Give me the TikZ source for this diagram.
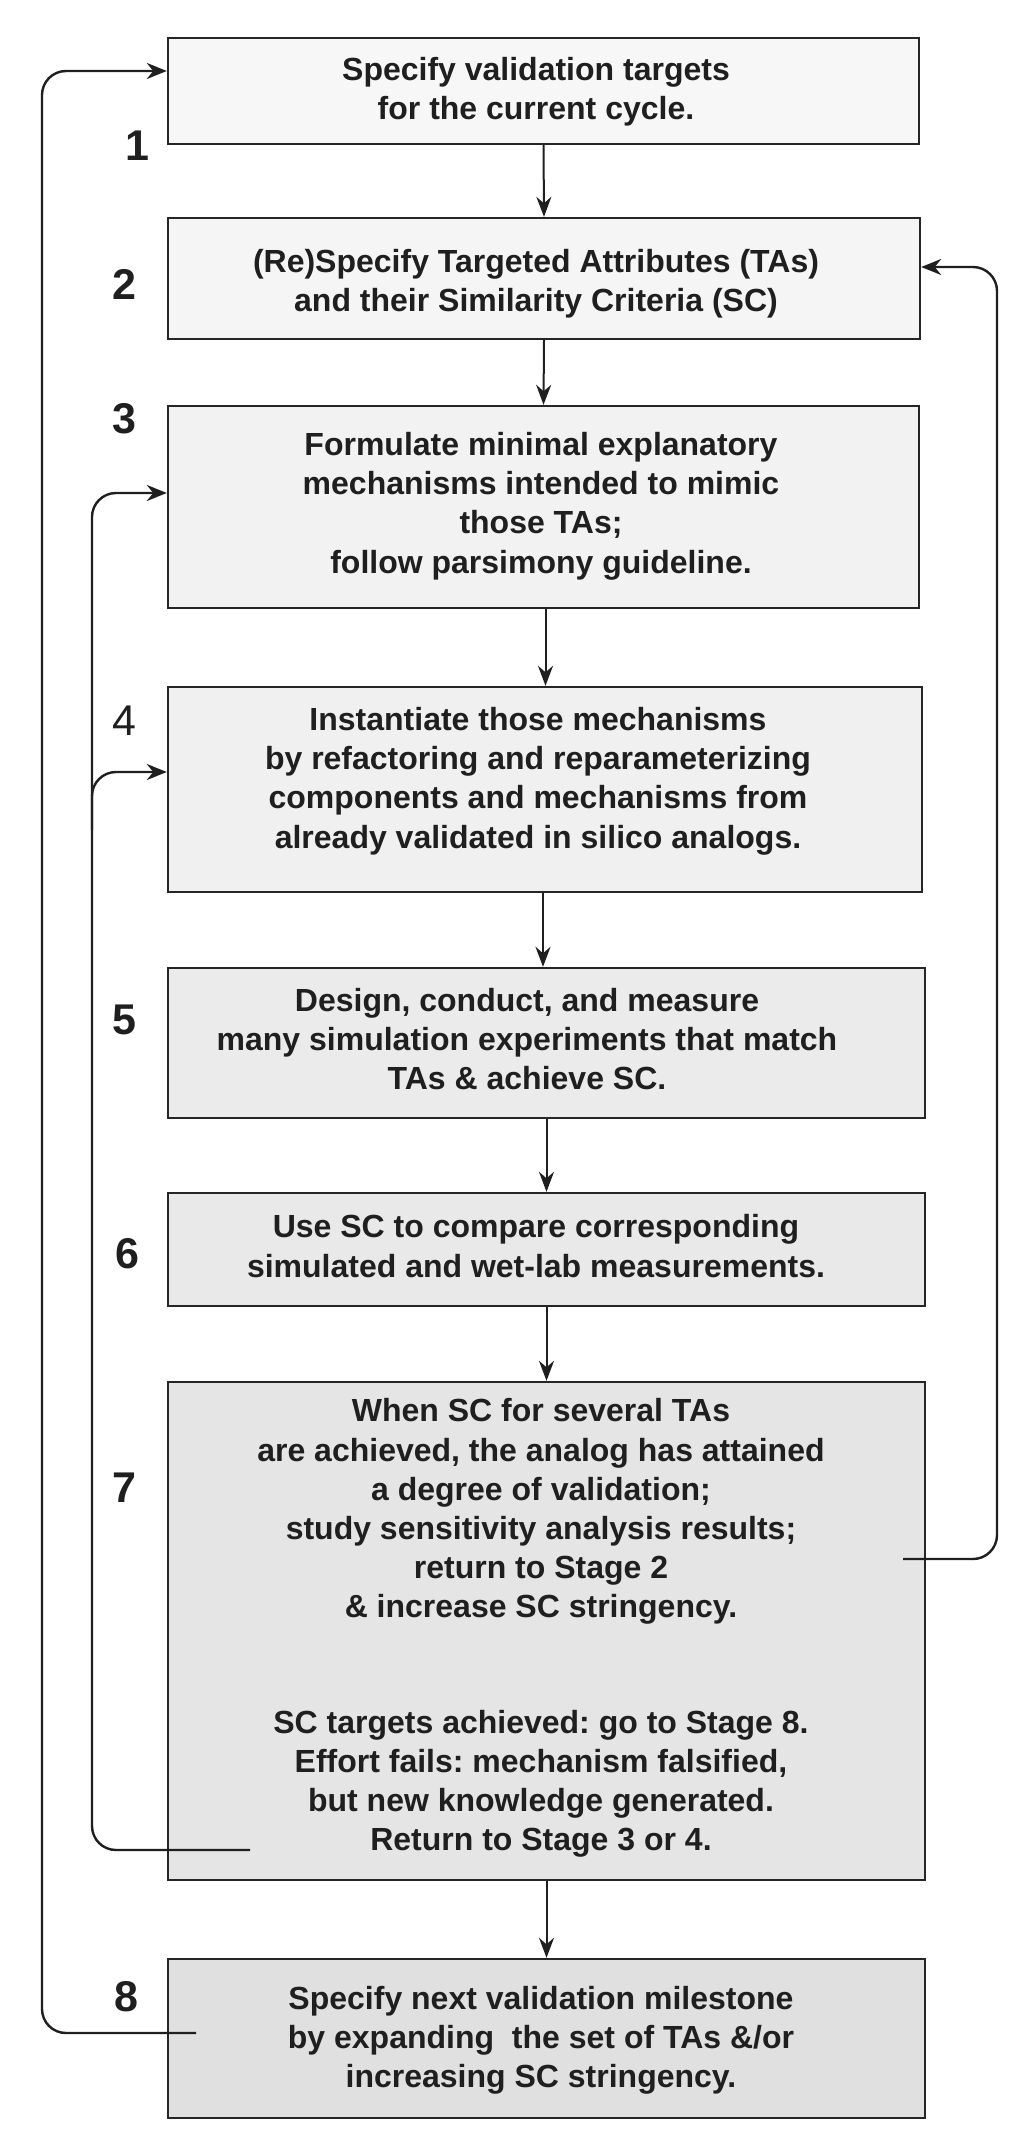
\documentclass[tikz,border=0pt]{standalone}
\usepackage{fontspec}
\setmainfont{Liberation Sans}
\usetikzlibrary{arrows.meta,calc}
\begin{document}
\begin{tikzpicture}[x=0.5pt,y=-0.5pt,
  box/.style={draw=black!85,line width=1.2pt,inner sep=0pt},
  txt/.style={align=center,inner sep=0pt,text=black!88,font=\fontsize{16}{19.6}\selectfont\bfseries\frenchspacing},
  num/.style={inner sep=0pt,text=black!88,font=\fontsize{21.5}{25}\selectfont\bfseries},
  numthin/.style={inner sep=0pt,text=black!88,font=\fontsize{21.5}{25}\selectfont},
  flow/.style={draw=black!88,line width=1pt,-{Stealth[length=10pt,width=7.5pt]}},
  loopline/.style={draw=black!88,line width=1.2pt,rounded corners=12pt},
  looparrow/.style={loopline,-{Stealth[length=10pt,width=8pt]}}]
\useasboundingbox (0,0) rectangle (1008,2145);
\fill[white] (0,0) rectangle (1008,2145);

% boxes
\node[box,fill=black!3,minimum width=375.5pt,minimum height=53pt] (b1) at (543.5,91) {};
\node[box,fill=black!4,minimum width=376pt,minimum height=60.5pt] (b2) at (544,278.5) {};
\node[box,fill=black!5,minimum width=375.5pt,minimum height=101pt] (b3) at (543.5,507) {};
\node[box,fill=black!6,minimum width=377pt,minimum height=102.5pt] (b4) at (545,789.5) {};
\node[box,fill=black!8,minimum width=378.5pt,minimum height=75pt] (b5) at (546.5,1043) {};
\node[box,fill=black!8.5,minimum width=378.5pt,minimum height=56.5pt] (b6) at (546.5,1249.5) {};
\node[box,fill=black!10,minimum width=378.5pt,minimum height=249pt] (b7) at (546.5,1631) {};
\node[box,fill=black!12,minimum width=378.5pt,minimum height=79.5pt] (b8) at (546.5,2038.5) {};

% texts
\node[txt] (t1) at (536,92) {Specify validation targets\\for the current cycle.};
\node[txt] (t2) at (536,284) {(Re)Specify Targeted Attributes (TAs)\\and their Similarity Criteria (SC)};
\node[txt] (t3) at (541,506) {Formulate minimal explanatory\\mechanisms intended to mimic\\those TAs;\\follow parsimony guideline.};
\node[txt] (t4) at (538,781) {Instantiate those mechanisms\\by refactoring and reparameterizing\\components and mechanisms from\\already validated in silico analogs.};
\node[txt] (t5) at (527,1039) {Design, conduct, and measure\\many simulation experiments that match\\TAs \& achieve SC.};
\node[txt] (t6) at (536,1246) {Use SC to compare corresponding\\simulated and wet-lab measurements.};
\node[txt] (t7) at (541,1628) {When SC for several TAs\\are achieved, the analog has attained\\a degree of validation;\\study sensitivity analysis results;\\return to Stage 2\\\& increase SC stringency.\\[38pt]SC targets achieved: go to Stage 8.\\Effort fails: mechanism falsified,\\but new knowledge generated.\\Return to Stage 3 or 4.};
\node[txt] (t8) at (541,2040) {Specify next validation milestone\\by expanding\ \ the set of TAs \&/or\\increasing SC stringency.};

% stage numbers
\node[num] (n1) at (137,146) {1};
\node[num] (n2) at (124,284) {2};
\node[num] (n3) at (124,419) {3};
\node[numthin] (n4) at (124,721) {4};
\node[num] (n5) at (124,1020) {5};
\node[num] (n6) at (127,1254) {6};
\node[num] (n7) at (124,1488) {7};
\node[num] (n8) at (126,1997) {8};

% main flow
\draw[flow] (b1.south) -- (b2.north);
\draw[flow] (b2.south) -- (b3.north);
\draw[flow] ([xshift=1pt]b3.south) -- ([xshift=1pt]b3.south |- b4.north);
\draw[flow] ([xshift=-1pt]b4.south) -- ([xshift=-1pt]b4.south |- b5.north);
\draw[flow] (b5.south) -- (b6.north);
\draw[flow] (b6.south) -- (b7.north);
\draw[flow] (b7.south) -- (b8.north);

% feedback loops
\coordinate (r7) at (903,1559);
\coordinate (l7) at (250,1850);
\coordinate (l8) at (196,2033);

\draw[looparrow] (r7) -- (997,1559) -- (997,267) -- ([yshift=5.75pt]b2.east);
\draw[looparrow] (l7) -- (92,1850) -- (92,493) -- ([yshift=7pt]b3.west);
\draw[looparrow] (92,830) -- (92,772) -- ([yshift=8.75pt]b4.west);
\draw[looparrow] (l8) -- (42,2033) -- (42,71) -- ([yshift=10pt]b1.west);
\end{tikzpicture}
\end{document}
